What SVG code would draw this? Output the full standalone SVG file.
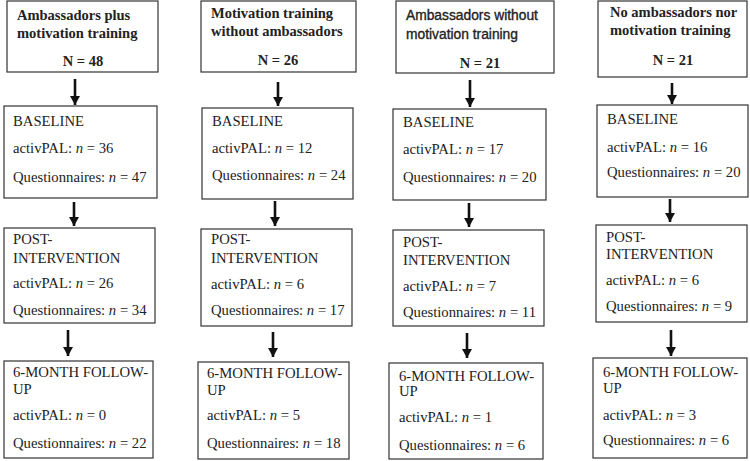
<svg xmlns="http://www.w3.org/2000/svg" width="750" height="461" viewBox="0 0 750 461">
<style>
rect.box{fill:#fff;stroke:#333;stroke-width:1.2}
text{font-family:"Liberation Serif","Times New Roman",serif;font-size:14.7px;fill:#222}
text.hd{font-weight:bold;font-size:14.5px}
text.sans{font-family:"Liberation Sans",Arial,sans-serif;font-size:13.8px;stroke:#222;stroke-width:0.35}
text.c{text-anchor:middle}
tspan.i{font-style:italic}
.conn line{stroke:#111;stroke-width:2.6;marker-end:url(#ah)}
</style>
<defs>
<marker id="ah" markerUnits="userSpaceOnUse" markerWidth="11" markerHeight="10" refX="9" refY="5" orient="auto">
<path d="M0,0 L9,5 L0,10 Z" fill="#111"/>
</marker>
</defs>
<rect width="750" height="461" fill="#fff"/>

<g id="g1-head"><rect class="box" x="7" y="1" width="151" height="71"/>
<text class="hd" x="17" y="20">Ambassadors plus</text>
<text class="hd" x="17" y="38">motivation training</text>
<text class="hd c" x="83" y="66">N = 48</text></g>
<g id="g1-base"><rect class="box" x="4" y="106" width="153" height="92"/>
<text x="13" y="126">BASELINE</text>
<text x="13" y="153">activPAL: <tspan class="i">n</tspan> = 36</text>
<text x="13" y="182">Questionnaires: <tspan class="i">n</tspan> = 47</text></g>
<g id="g1-post"><rect class="box" x="4" y="228" width="151" height="95"/>
<text x="13" y="244">POST-</text>
<text x="13" y="263">INTERVENTION</text>
<text x="13" y="288">activPAL: <tspan class="i">n</tspan> = 26</text>
<text x="13" y="315">Questionnaires: <tspan class="i">n</tspan> = 34</text></g>
<g id="g1-fu"><rect class="box" x="4" y="361" width="149" height="97"/>
<text x="13" y="377">6-MONTH FOLLOW-</text>
<text x="13" y="394">UP</text>
<text x="13" y="420">activPAL: <tspan class="i">n</tspan> = 0</text>
<text x="13" y="448">Questionnaires: <tspan class="i">n</tspan> = 22</text></g>

<g id="g2-head"><rect class="box" x="201" y="1" width="155" height="71"/>
<text class="hd" x="211" y="18">Motivation training</text>
<text class="hd" x="211" y="36">without ambassadors</text>
<text class="hd c" x="278" y="65">N = 26</text></g>
<g id="g2-base"><rect class="box" x="202" y="108" width="151" height="91"/>
<text x="212" y="126">BASELINE</text>
<text x="212" y="153">activPAL: <tspan class="i">n</tspan> = 12</text>
<text x="212" y="180">Questionnaires: <tspan class="i">n</tspan> = 24</text></g>
<g id="g2-post"><rect class="box" x="201" y="229" width="151" height="97"/>
<text x="211" y="244">POST-</text>
<text x="211" y="263">INTERVENTION</text>
<text x="211" y="289">activPAL: <tspan class="i">n</tspan> = 6</text>
<text x="211" y="315">Questionnaires: <tspan class="i">n</tspan> = 17</text></g>
<g id="g2-fu"><rect class="box" x="198" y="362" width="151" height="97"/>
<text x="207" y="378">6-MONTH FOLLOW-</text>
<text x="207" y="395">UP</text>
<text x="207" y="420">activPAL: <tspan class="i">n</tspan> = 5</text>
<text x="207" y="448">Questionnaires: <tspan class="i">n</tspan> = 18</text></g>

<g id="g3-head"><rect class="box" x="396" y="1" width="158" height="72"/>
<text class="sans" x="406" y="20">Ambassadors without</text>
<text class="sans" x="406" y="39">motivation training</text>
<text class="hd c" x="480" y="68">N = 21</text></g>
<g id="g3-base"><rect class="box" x="393" y="109" width="153" height="91"/>
<text x="403" y="127">BASELINE</text>
<text x="403" y="154">activPAL: <tspan class="i">n</tspan> = 17</text>
<text x="403" y="182">Questionnaires: <tspan class="i">n</tspan> = 20</text></g>
<g id="g3-post"><rect class="box" x="393" y="230" width="151" height="96"/>
<text x="403" y="247">POST-</text>
<text x="403" y="265">INTERVENTION</text>
<text x="403" y="291">activPAL: <tspan class="i">n</tspan> = 7</text>
<text x="403" y="317">Questionnaires: <tspan class="i">n</tspan> = 11</text></g>
<g id="g3-fu"><rect class="box" x="389" y="363" width="154" height="96"/>
<text x="399" y="381">6-MONTH FOLLOW-</text>
<text x="399" y="396">UP</text>
<text x="399" y="422">activPAL: <tspan class="i">n</tspan> = 1</text>
<text x="399" y="450">Questionnaires: <tspan class="i">n</tspan> = 6</text></g>

<g id="g4-head"><rect class="box" x="598" y="1" width="149" height="76"/>
<text class="hd" x="610" y="17">No ambassadors nor</text>
<text class="hd" x="610" y="35">motivation training</text>
<text class="hd c" x="673" y="65">N = 21</text></g>
<g id="g4-base"><rect class="box" x="597" y="105" width="151" height="92"/>
<text x="607" y="124">BASELINE</text>
<text x="607" y="152">activPAL: <tspan class="i">n</tspan> = 16</text>
<text x="607" y="177">Questionnaires: <tspan class="i">n</tspan> = 20</text></g>
<g id="g4-post"><rect class="box" x="596" y="225" width="151" height="97"/>
<text x="606" y="242">POST-</text>
<text x="606" y="259">INTERVENTION</text>
<text x="606" y="285">activPAL: <tspan class="i">n</tspan> = 6</text>
<text x="606" y="311">Questionnaires: <tspan class="i">n</tspan> = 9</text></g>
<g id="g4-fu"><rect class="box" x="593" y="358" width="154" height="100"/>
<text x="603" y="377">6-MONTH FOLLOW-</text>
<text x="603" y="393">UP</text>
<text x="603" y="420">activPAL: <tspan class="i">n</tspan> = 3</text>
<text x="603" y="445">Questionnaires: <tspan class="i">n</tspan> = 6</text></g>

<g id="connectors" class="conn">
<line x1="75" y1="79" x2="75" y2="105"/>
<line x1="74" y1="202" x2="74" y2="226"/>
<line x1="68" y1="330" x2="68" y2="356"/>
<line x1="278" y1="82" x2="278" y2="106"/>
<line x1="275" y1="201" x2="275" y2="226"/>
<line x1="273" y1="332" x2="273" y2="357"/>
<line x1="470" y1="80" x2="470" y2="107"/>
<line x1="469" y1="203" x2="469" y2="227"/>
<line x1="467" y1="333" x2="467" y2="358"/>
<line x1="672" y1="83" x2="672" y2="104"/>
<line x1="670" y1="199" x2="670" y2="222"/>
<line x1="671" y1="330" x2="671" y2="356"/>
</g>
</svg>
